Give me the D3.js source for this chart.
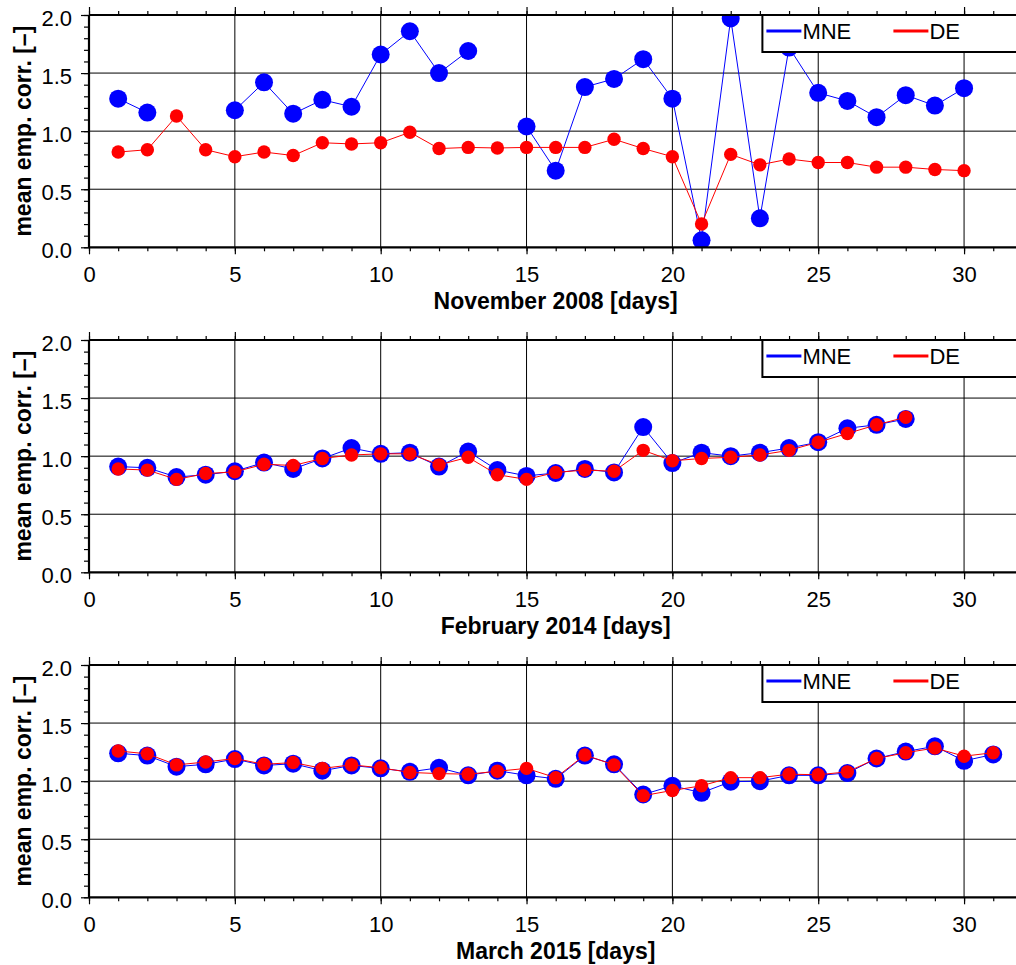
<!DOCTYPE html>
<html>
<head>
<meta charset="utf-8">
<script src="https://cdn.jsdelivr.net/npm/d3@7"></script>
<style>
  body { margin: 0; background: #fff; }
  svg { display: block; font-family: "Liberation Sans", Arial, Helvetica, sans-serif; }
</style>
</head>
<body>
<div id="chart"></div>
<script>
// x labels of the three panels
const panelLabels = ["November 2008 [days]", "February 2014 [days]", "March 2015 [days]"];
const seriesNames = ["MNE", "DE"];
const xTicks = [0, 5, 10, 15, 20, 25, 30];
const yTicks = [0, 0.5, 1.0, 1.5, 2.0];

// values per day (day 1 first), null = no value
const nov2008MNE = [1.28, 1.16, null, null, 1.18, 1.42, 1.15, 1.27, 1.21, 1.66, 1.86, 1.50, 1.69, null, 1.04,
  0.66, 1.38, 1.45, 1.62, 1.28, 0.06, 1.97, 0.25, 1.72, 1.33, 1.26, 1.12, 1.31, 1.22, 1.37];
const nov2008DE = [0.82, 0.84, 1.13, 0.84, 0.78, 0.82, 0.79, 0.90, 0.89, 0.90, 0.99, 0.85, 0.86, 0.855, 0.86,
  0.86, 0.86, 0.93, 0.85, 0.78, 0.20, 0.80, 0.71, 0.76, 0.73, 0.73, 0.69, 0.69, 0.67, 0.66];

const feb2014MNE = [0.91, 0.90, 0.82, 0.84, 0.87, 0.945, 0.89, 0.98, 1.07, 1.02, 1.03, 0.91, 1.04, 0.88,
  0.83, 0.855, 0.89, 0.86, 1.25, 0.94, 1.03, 1.00, 1.03, 1.07, 1.12, 1.24, 1.27, 1.32];
const feb2014DE = [0.89, 0.88, 0.80, 0.85, 0.865, 0.93, 0.92, 0.98, 1.01, 1.02, 1.02, 0.925, 0.99, 0.84,
  0.80, 0.86, 0.88, 0.87, 1.05, 0.96, 0.98, 0.99, 1.01, 1.05, 1.12, 1.195, 1.27, 1.335];

const mar2015MNE = [1.24, 1.22, 1.125, 1.145, 1.19, 1.135, 1.15, 1.09, 1.135, 1.11, 1.08, 1.115, 1.05, 1.09,
  1.05, 1.02, 1.22, 1.145, 0.885, 0.96, 0.90, 0.995, 1.00, 1.05, 1.05, 1.07, 1.195, 1.255, 1.30, 1.175, 1.23];
const mar2015DE = [1.26, 1.235, 1.14, 1.165, 1.195, 1.145, 1.16, 1.11, 1.14, 1.115, 1.075, 1.065, 1.06, 1.085,
  1.11, 1.03, 1.225, 1.14, 0.875, 0.92, 0.96, 1.03, 1.03, 1.06, 1.055, 1.08, 1.195, 1.245, 1.285, 1.215, 1.245];

const panels = [
  {label: panelLabels[0], series: [nov2008MNE, nov2008DE]},
  {label: panelLabels[1], series: [feb2014MNE, feb2014DE]},
  {label: panelLabels[2], series: [mar2015MNE, mar2015DE]}
];

const colors = ["#0000ff", "#ff0000"];
const radius = [9, 6.7];

const margin = {top: 15, left: 89};
const plotWidth = 933.4;
const plotHeight = 232.3;
const panelStep = 325;

const svg = d3.select('#chart').append('svg')
  .attr('width', 1016)
  .attr('height', 965);

const x = d3.scaleLinear().domain([0, 32]).range([0, plotWidth]);
const y = d3.scaleLinear().domain([0, 2]).range([plotHeight, 0]);

svg.append('defs').append('clipPath')
  .attr('id', 'plotclip')
  .append('rect')
    .attr('width', plotWidth)
    .attr('height', plotHeight);

panels.forEach((panel, i) => {
  const g = svg.append('g')
    .attr('transform', `translate(${margin.left},${margin.top + i * panelStep})`);

  // grid
  g.append('g').selectAll('line')
    .data(xTicks.filter(d => d > 0))
    .enter().append('line')
      .attr('x1', d => x(d)).attr('x2', d => x(d))
      .attr('y1', 0).attr('y2', plotHeight)
      .attr('stroke', '#000').attr('stroke-width', 1);
  g.append('g').selectAll('line')
    .data(yTicks.filter(d => d > 0 && d < 2))
    .enter().append('line')
      .attr('x1', 0).attr('x2', plotWidth)
      .attr('y1', d => y(d)).attr('y2', d => y(d))
      .attr('stroke', '#000').attr('stroke-width', 1);

  // axes: minor ticks then major ticks with labels
  const minorX = d3.range(0, 33, 1);
  const minorY = d3.range(0, 21, 1).map(d => d / 10);

  g.append('g')
    .attr('transform', `translate(0,${plotHeight})`)
    .call(d3.axisBottom(x).tickValues(minorX).tickSize(4).tickSizeOuter(0).tickFormat(''));
  g.append('g')
    .attr('transform', `translate(0,${plotHeight})`)
    .call(d3.axisBottom(x).tickValues(xTicks).tickSize(7).tickSizeOuter(0).tickPadding(12.5));
  g.append('g')
    .call(d3.axisTop(x).tickValues(minorX).tickSize(4).tickSizeOuter(0).tickFormat(''));
  g.append('g')
    .call(d3.axisTop(x).tickValues(xTicks).tickSize(8).tickSizeOuter(0).tickFormat(''));
  g.append('g')
    .call(d3.axisLeft(y).tickValues(minorY).tickSize(5).tickSizeOuter(0).tickFormat(''));
  const yAxis = g.append('g')
    .call(d3.axisLeft(y).tickValues(yTicks).tickSize(8).tickSizeOuter(0).tickPadding(9)
      .tickFormat(d3.format('.1f')));
  yAxis.selectAll('text').attr('dy', '0.46em');

  g.selectAll('.domain').remove();
  g.selectAll('.tick line').attr('stroke', '#000').attr('stroke-width', 1.2);
  g.selectAll('.tick text')
    .attr('fill', '#000')
    .style('font-size', '22px')
    .style('font-family', '"Liberation Sans", Arial, sans-serif');

  // series
  const plot = g.append('g').attr('clip-path', 'url(#plotclip)');
  panel.series.forEach((values, s) => {
    const pts = values.map((v, k) => ({day: k + 1, value: v}));
    const line = d3.line()
      .defined(d => d.value !== null)
      .x(d => x(d.day))
      .y(d => y(d.value));
    plot.append('path')
      .datum(pts)
      .attr('d', line)
      .attr('fill', 'none')
      .attr('stroke', colors[s])
      .attr('stroke-width', 1);
    plot.selectAll(null)
      .data(pts.filter(d => d.value !== null))
      .enter().append('circle')
        .attr('cx', d => x(d.day))
        .attr('cy', d => y(d.value))
        .attr('r', radius[s])
        .attr('fill', colors[s]);
  });

  // frame
  g.append('line').attr('x1', 0).attr('x2', plotWidth).attr('y1', 0).attr('y2', 0)
    .attr('stroke', '#000').attr('stroke-width', 2.2);
  g.append('line').attr('x1', 0).attr('x2', plotWidth).attr('y1', plotHeight).attr('y2', plotHeight)
    .attr('stroke', '#000').attr('stroke-width', 2.2);
  g.append('line').attr('x1', 0).attr('x2', 0).attr('y1', 0).attr('y2', plotHeight)
    .attr('stroke', '#000').attr('stroke-width', 2.2);
  g.append('line').attr('x1', plotWidth).attr('x2', plotWidth).attr('y1', 0).attr('y2', plotHeight)
    .attr('stroke', '#000').attr('stroke-width', 2.2);

  // legend, top right
  const legend = g.append('g')
    .attr('transform', `translate(${plotWidth - 260},0)`);
  legend.append('rect')
    .attr('width', 260)
    .attr('height', 37)
    .attr('fill', '#fff')
    .attr('stroke', '#000')
    .attr('stroke-width', 2);
  const legendX = [4, 131];
  seriesNames.forEach((name, s) => {
    legend.append('line')
      .attr('x1', legendX[s]).attr('x2', legendX[s] + 35)
      .attr('y1', 16).attr('y2', 16)
      .attr('stroke', colors[s])
      .attr('stroke-width', 3);
    legend.append('text')
      .attr('x', legendX[s] + 36)
      .attr('y', 24.3)
      .style('font-size', '22px')
      .text(name);
  });

  // axis titles
  g.append('text')
    .attr('transform', `translate(-58,${plotHeight / 2}) rotate(-90)`)
    .attr('text-anchor', 'middle')
    .style('font-size', '23px')
    .style('font-weight', 'bold')
    .text('mean emp. corr. [–]');
  g.append('text')
    .attr('x', plotWidth / 2)
    .attr('y', plotHeight + 62)
    .attr('text-anchor', 'middle')
    .style('font-size', '23px')
    .style('font-weight', 'bold')
    .text(panel.label);
});
</script>
</body>
</html>
